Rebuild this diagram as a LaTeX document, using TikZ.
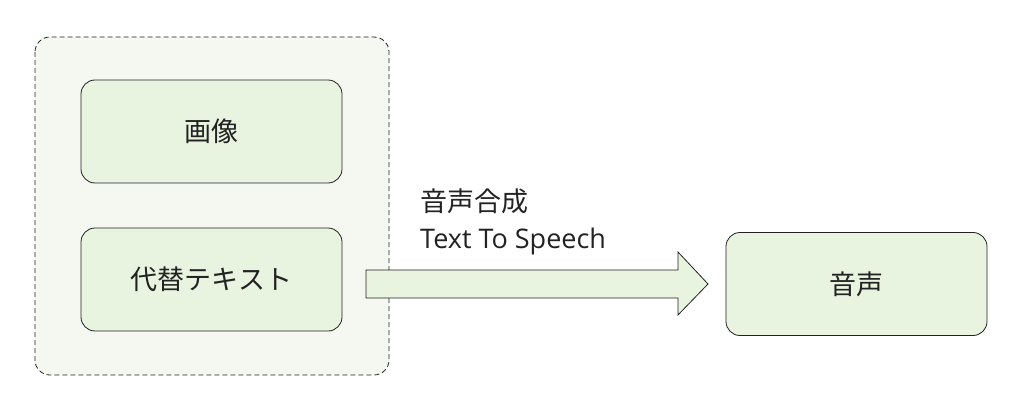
\documentclass[tikz,border=0pt]{standalone}
\usepackage{fontspec}
\setmainfont{Noto Sans CJK JP}
\newfontfamily\latinf{Open Sans}
\definecolor{boxfill}{HTML}{E8F3E0}
\definecolor{grpfill}{HTML}{F5F8F0}
\definecolor{txt}{HTML}{222222}
\begin{document}
\begin{tikzpicture}[x=1pt,y=-1pt,
  box/.style={draw=txt,fill=boxfill,rounded corners=14pt,line width=0.8pt,minimum width=261pt,minimum height=103pt,font=\fontsize{27}{32}\selectfont,text=txt},
  grp/.style={draw=txt,dash pattern=on 5pt off 3pt,fill=grpfill,rounded corners=15pt,line width=0.8pt}]
\useasboundingbox (0,0) rectangle (1023,404);
\draw[grp] (35,37) rectangle (389,375);
\node[box] (img) at (211.5,131.5) {画像};
\node[box] (alt) at (211.5,279.5) {代替テキスト};
\node[box] (snd) at (856.5,284) {音声};
\draw[draw=txt,fill=boxfill,line width=0.8pt] (366,270) -- (678,270) -- (678,252) -- (708,284) -- (678,315) -- (678,298) -- (366,298) -- cycle;
\node[anchor=west,inner sep=0pt,font=\fontsize{27}{37}\selectfont,text=txt,align=left] (lab) at (420,222) {音声合成\\{\latinf Text To Speech}};
\end{tikzpicture}
\end{document}
